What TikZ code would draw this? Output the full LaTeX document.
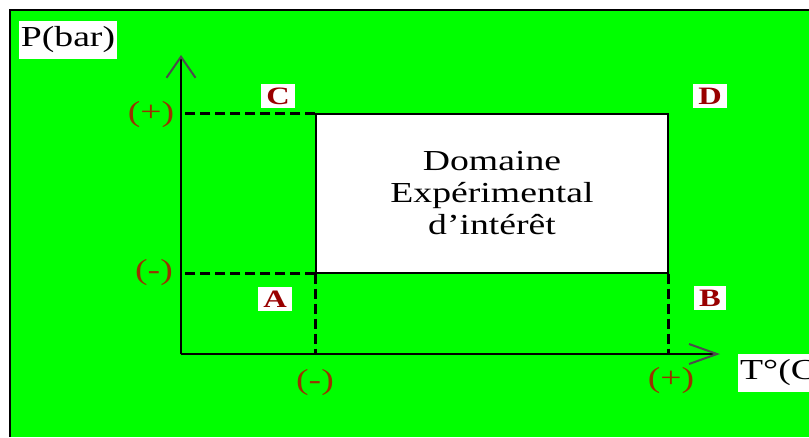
\documentclass[tikz,border=0pt]{standalone}
\usepackage{fontspec}
\setmainfont{Liberation Serif}[FakeStretch=1.3]
\usetikzlibrary{arrows.meta}
\definecolor{bggreen}{RGB}{0,255,0}
\definecolor{levelred}{RGB}{153,51,0}
\definecolor{cornerred}{RGB}{153,0,0}

\begin{document}
\begin{tikzpicture}[x=1pt,y=-1pt,
    axis/.style={line width=2pt},
    guide/.style={line width=3pt,dash pattern=on 10pt off 5pt},
    level/.style={text=levelred,inner sep=0pt,font=\fontsize{29}{31}\selectfont},
    corner/.style={fill=white,text=cornerred,inner xsep=5pt,inner ysep=4pt,
      font=\fontsize{25}{27}\selectfont\bfseries},
    axislabel/.style={fill=white,inner xsep=2pt,inner ysep=6pt,
      font=\fontsize{29}{31}\selectfont}]
  \useasboundingbox (0,0) rectangle (809,437);
  % Background and frame.
  \fill[white] (0,0) rectangle (809,437);
  \fill[bggreen] (10,10) rectangle (809,437);
  \draw[line width=2.5pt] (809,10) -- (10,10) -- (10,437);
  % The domain of interest.
  \node[draw, fill=white, line width=1.2pt, minimum width=352pt,
        minimum height=159pt, align=center,
        font=\fontsize{29}{32}\selectfont] (domain) at (492,193.5)
    {Domaine\\Expérimental\\d’intérêt};
  % Axes.
  \coordinate (O) at (181,354);
  \coordinate (ytip) at (181,55);
  \coordinate (xtip) at (720,354);
  % Guides to the axes.
  \draw[guide] (domain.north west) -- (domain.north west -| O);
  \draw[guide] (domain.south west) -- (domain.south west -| O);
  \draw[guide] (domain.south west) -- (domain.south west |- O);
  \draw[guide] (domain.south east) -- (domain.south east |- O);
  \draw[axis,-{Straight Barb[length=21pt,width=29pt,color=black!70]}] (O) -- (ytip);
  \draw[axis,-{Straight Barb[length=28pt,width=20pt,color=black!70]}] (O) -- (xtip);
  % Axis names.
  \node[axislabel] (pname) at (68,40) {P(bar)};
  \node[axislabel, anchor=west] (tname) at (738,373) {T°(C)};
  % Levels.
  \node[level] (pplus) at (151,115) {(+)};
  \node[level] (pminus) at (154,273) {(-)};
  \node[level] (tminus) at (315,383) {(-)};
  \node[level] (tplus) at (671,381) {(+)};
  % Corners.
  \foreach \name/\x/\y in {A/275/299, B/710/298, C/278/96, D/710/96}
    \node[corner] (corner\name) at (\x,\y) {\name};
\end{tikzpicture}
\end{document}
